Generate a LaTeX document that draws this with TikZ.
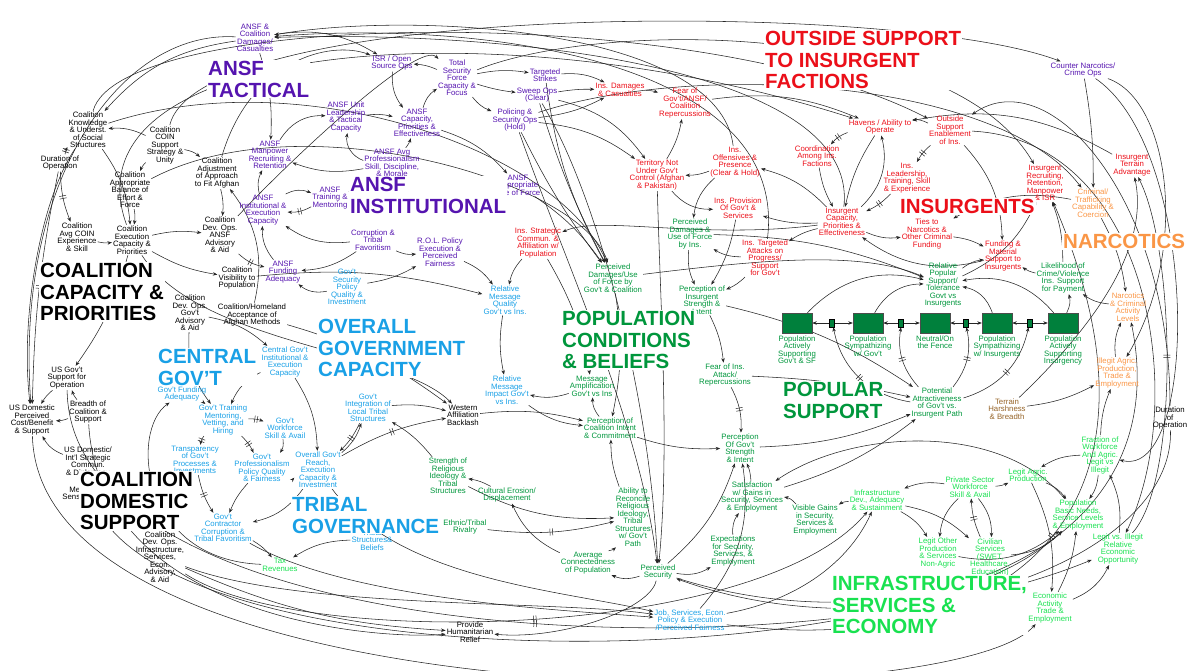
\documentclass[tikz,border=0pt]{standalone}
\usepackage{fontspec}
\setmainfont{Liberation Sans}
\usetikzlibrary{arrows.meta,positioning,decorations.markings,backgrounds}

\definecolor{ansfc}{RGB}{85,20,175}
\definecolor{insc}{RGB}{235,15,25}
\definecolor{govc}{RGB}{25,160,230}
\definecolor{popc}{RGB}{0,150,60}
\definecolor{infc}{RGB}{25,225,80}
\definecolor{narcc}{RGB}{250,150,70}
\definecolor{terrc}{RGB}{150,100,40}
\definecolor{stockc}{RGB}{0,128,60}

\newcommand{\varfont}{\fontsize{7.8}{7.5}\selectfont}
\newcommand{\sectorfont}{\fontsize{20.5}{21.7}\selectfont\bfseries}

\tikzset{
  var/.style={align=center, font=\varfont, inner sep=1pt},
  ansf/.style={var, text=ansfc},
  coal/.style={var, text=black},
  gov/.style={var, text=govc},
  ins/.style={var, text=insc},
  pop/.style={var, text=popc},
  infr/.style={var, text=infc},
  narc/.style={var, text=narcc},
  terr/.style={var, text=terrc},
  sector/.style={align=left, font=\sectorfont, inner sep=1pt, fill=white, anchor=north west},
  stockbox/.style={draw=black!70, fill=stockc, minimum width=30pt, minimum height=20pt, inner sep=0pt},
  stocklab/.style={var, text=popc},
  valve/.style={draw=black, fill=stockc, minimum width=5pt, minimum height=8pt, inner sep=0pt},
  flow/.style={draw=black!85, line width=0.55pt, -{Stealth[length=4.5pt,width=3.5pt]}},
  delay/.style={postaction={decorate}, decoration={markings,
    mark=at position 0.5 with {\draw[-, line width=0.5pt] (-1.3pt,-3.5pt) -- (-1.3pt,3.5pt) (1.3pt,-3.5pt) -- (1.3pt,3.5pt);}}}
}

\begin{document}
\begin{tikzpicture}[x=1pt, y=-1pt]
\useasboundingbox (0,0) rectangle (1195,670);

% ANSF
\node[ansf] (ansfdam) at (255,38) {ANSF \&\\Coalition\\Damages/\\Casualties};
\node[ansf] (isr) at (392,63) {ISR / Open\\Source Ops};
\node[ansf] (tsf) at (457,78) {Total\\Security\\Force\\Capacity \&\\Focus};
\node[ansf] (tstrike) at (545,75) {Targeted\\Strikes};
\node[ansf] (sweep) at (537,95) {Sweep Ops\\(Clear)};
\node[ansf] (police) at (515,120) {Policing \&\\Security Ops\\(Hold)};
\node[ansf] (unitlead) at (346,117) {ANSF Unit\\Leadership\\\& Tactical\\Capacity};
\node[ansf] (ansfcap) at (417,123) {ANSF\\Capacity,\\Priorities \&\\Effectiveness};
\node[ansf] (manpow) at (270,155) {ANSF\\Manpower\\Recruiting \&\\Retention};
\node[ansf] (prof) at (392,163) {ANSF Avg\\Professionalism\\Skill, Discipline,\\\& Morale};
\node[ansf] (train) at (330,198) {ANSF\\Training \&\\Mentoring};
\node[ansf] (instcap) at (263,210) {ANSF\\Institutional \&\\Execution\\Capacity};
\node[ansf] (corrupt) at (373,240) {Corruption \&\\Tribal\\Favoritism};
\node[ansf] (rol) at (440,252) {R.O.L. Policy\\Execution \&\\Perceived\\Fairness};
\node[ansf] (fund) at (283,272) {ANSF\\Funding\\Adequacy};
\node[ansf] (force) at (518,185) {ANSF\\Appropriate\\Use of Force};
\node[ansf] (cnops) at (1083,70) {Counter Narcotics/\\Crime Ops};

% coalition
\node[coal] (knowl) at (88,130) {Coalition\\Knowledge\\\& Underst.\\of Social\\Structures};
\node[coal] (coin) at (165,145) {Coalition\\COIN\\Support\\Strategy \&\\Unity};
\node[coal] (dur) at (60,163) {Duration of\\Operation};
\node[coal] (balance) at (130,190) {Coalition\\Appropriate\\Balance of\\Effort \&\\Force};
\node[coal] (adjust) at (217,173) {Coalition\\Adjustment\\of Approach\\to Fit Afghan};
\node[coal] (devansf) at (220,235) {Coalition\\Dev. Ops.\\ANSF\\Advisory\\\& Aid};
\node[coal] (avgcoin) at (77,237) {Coalition\\Avg COIN\\Experience\\\& Skill};
\node[coal] (exec) at (132,240) {Coalition\\Execution\\Capacity \&\\Priorities};
\node[coal] (visib) at (237,278) {Coalition\\Visibility to\\Population};
\node[coal] (devgov) at (190,313) {Coalition\\Dev. Ops.\\Gov't\\Advisory\\\& Aid};
\node[coal] (homeland) at (252,315) {Coalition/Homeland\\Acceptance of\\Afghan Methods};
\node[coal] (usgov) at (67,378) {US Gov't\\Support for\\Operation};
\node[coal] (usdom) at (32,420) {US Domestic\\Perceived\\Cost/Benefit\\\& Support};
\node[coal] (breadth) at (88,412) {Breadth of\\Coalition \&\\Support};
\node[coal] (commun) at (88,462) {US Domestic/\\Int'l Strategic\\Commun.\\\& Diplomacy};
\node[coal] (media) at (80,494) {Media\\Sensitivity};
\node[coal] (devinfra) at (160,557) {Coalition\\Dev. Ops.\\Infrastructure,\\Services,\\Econ.\\Advisory,\\\& Aid};
\node[coal] (western) at (463,415) {Western\\Affiliation\\Backlash};
\node[coal] (relief) at (470,632) {Provide\\Humanitarian\\Relief};
\node[coal] (dur2) at (1170,418) {Duration\\of\\Operation};

% government
\node[gov] (secpol) at (347,287) {Gov't\\Security\\Policy\\Quality \&\\Investment};
\node[gov] (centcap) at (285,362) {Central Gov't\\Institutional \&\\Execution\\Capacity};
\node[gov] (govfund) at (182,394) {Gov't Funding\\Adequacy};
\node[gov] (govtrain) at (223,420) {Gov't Training\\Mentoring,\\Vetting, and\\Hiring};
\node[gov] (workforce) at (285,428) {Gov't\\Workforce\\Skill \& Avail};
\node[gov] (transp) at (195,460) {Transparency\\of Gov't\\Processes \&\\Investments};
\node[gov] (govprof) at (262,468) {Gov't\\Professionalism\\Policy Quality\\\& Fairness};
\node[gov] (reach) at (318,470) {Overall Gov't\\Reach,\\Execution\\Capacity \&\\Investment};
\node[gov] (integ) at (368,408) {Gov't\\Integration of\\Local Tribal\\Structures};
\node[gov] (contract) at (223,528) {Gov't\\Contractor\\Corruption \&\\Tribal Favoritism};
\node[gov] (tribstr) at (372,540) {Tribal\\Structures\&\\Beliefs};
\node[gov] (msgq) at (505,300) {Relative\\Message\\Quality\\Gov't vs Ins.};
\node[gov] (msgi) at (507,390) {Relative\\Message\\Impact Gov't\\vs Ins.};
\node[gov] (jobs) at (690,620) {Job, Services, Econ.\\Policy \& Execution\\/Perceived Fairness};

% insurgents
\node[ins] (insdam) at (620,90) {Ins. Damages\\\& Casualties};
\node[ins] (fear) at (685,103) {Fear of\\Gov't/ANSF/\\Coalition\\Repercussions};
\node[ins] (territory) at (657,175) {Territory Not\\Under Gov't\\Control (Afghan\\\& Pakistan)};
\node[ins] (offens) at (735,162) {Ins.\\Offensives \&\\Presence\\(Clear \& Hold)};
\node[ins] (provision) at (738,208) {Ins. Provision\\Of Gov't \&\\Services};
\node[ins] (havens) at (880,127) {Havens / Ability to\\Operate};
\node[ins] (outside) at (950,130) {Outside\\Support\\Enablement\\of Ins.};
\node[ins] (coord) at (817,156) {Coordination\\Among Ins.\\Factions};
\node[ins] (leader) at (907,178) {Ins.\\Leadership,\\Training, Skill\\\& Experience};
\node[ins] (inscap) at (842,222) {Insurgent\\Capacity,\\Priorities \&\\Effectiveness};
\node[ins] (strat) at (538,243) {Ins. Strategic\\Commun. \&\\Affiliation w/\\Population};
\node[ins] (attacks) at (765,258) {Ins. Targeted\\Attacks on\\Progress/\\Support\\for Gov't};
\node[ins] (ties) at (927,234) {Ties to\\Narcotics \&\\Other Criminal\\Funding};
\node[ins] (material) at (1003,256) {Funding \&\\Material\\Support to\\Insurgents};
\node[ins] (recruit) at (1045,183) {Insurgent\\Recruiting,\\Retention,\\Manpower\\\& ISR};
\node[ins] (terrain) at (1132,165) {Insurgent\\Terrain\\Advantage};

% narcotics
\node[narc] (criminal) at (1093,203) {Criminal/\\Trafficking\\Capability \&\\Coercion};
\node[narc] (narco) at (1128,307) {Narcotics\\\& Criminal\\Activity\\Levels};
\node[narc] (illegit) at (1117,373) {Illegit Agric.\\Production,\\Trade \&\\Employment};
\node[terr] (harsh) at (1007,409) {Terrain\\Harshness\\\& Breadth};

% population
\node[pop] (pdins) at (690,234) {Perceived\\Damages \&\\Use of Force\\by Ins.};
\node[pop] (pdgov) at (613,278) {Perceived\\Damages/Use\\of Force by\\Gov't \& Coalition};
\node[pop] (pins) at (702,300) {Perception of\\Insurgent\\Strength \&\\Intent};
\node[pop] (amplif) at (592,386) {Message\\Amplification\\Gov't vs Ins};
\node[pop] (fearins) at (725,375) {Fear of Ins.\\Attack/\\Repercussions};
\node[pop] (pcoal) at (610,428) {Perception of\\Coalition Intent\\\& Commitment};
\node[pop] (pgov) at (740,448) {Perception\\Of Gov't\\Strength\\\& Intent};
\node[pop] (religion) at (448,476) {Strength of\\Religious\\Ideology \&\\Tribal\\Structures};
\node[pop] (erosion) at (507,495) {Cultural Erosion/\\Displacement};
\node[pop] (reconcile) at (633,517) {Ability to\\Reconcile\\Religious\\Ideology,\\Tribal\\Structures\\w/ Gov't\\Path};
\node[pop] (ethnic) at (465,527) {Ethnic/Tribal\\Rivalry};
\node[pop] (connect) at (588,563) {Average\\Connectedness\\of Population};
\node[pop] (security) at (658,572) {Perceived\\Security};
\node[pop] (satisf) at (752,497) {Satisfaction\\w/ Gains in\\Security, Services\\\& Employment};
\node[pop] (expect) at (733,551) {Expectations\\for Security,\\Services, \&\\Employment};
\node[pop] (visible) at (815,520) {Visible Gains\\in Security,\\Services \&\\Employment};
\node[pop] (relsup) at (943,285) {Relative\\Popular\\Support/\\Tolerance\\Govt vs\\Insurgents};
\node[pop] (crime) at (1063,278) {Likelihood of\\Crime/Violence\\Ins. Support\\for Payment};
\node[pop] (attract) at (937,403) {Potential\\Attractiveness\\of Gov't vs.\\Insurgent Path};

% infrastructure
\node[infr] (infra) at (877,500) {Infrastructure\\Dev., Adequacy\\\& Sustainment};
\node[infr] (private) at (970,487) {Private Sector\\Workforce\\Skill \& Avail};
\node[infr] (agric) at (1028,475) {Legit Agric.\\Production};
\node[infr] (fraction) at (1100,455) {Fraction of\\Workforce\\And Agric.\\Legit vs\\Illegit};
\node[infr] (basic) at (1078,515) {Population\\Basic Needs,\\Service Levels\\\& Employment};
\node[infr] (other) at (938,553) {Legit Other\\Production\\\& Services\\Non-Agric};
\node[infr] (civil) at (990,557) {Civilian\\Services\\(SWET,\\Healthcare,\\Education)};
\node[infr] (opport) at (1118,549) {Legit vs. Illegit\\Relative\\Economic\\Opportunity};
\node[infr] (econ) at (1050,608) {Economic\\Activity\\Trade \&\\Employment};
\node[infr] (tax) at (280,565) {Tax\\Revenues};

% popular support chain
\node[stockbox] (s1) at (797,323) {};
\node[stockbox] (s2) at (868,323) {};
\node[stockbox] (s3) at (935,323) {};
\node[stockbox] (s4) at (997,323) {};
\node[stockbox] (s5) at (1063,323) {};
\node[valve] (v1) at (832,323) {};
\node[valve] (v2) at (901,323) {};
\node[valve] (v3) at (966,323) {};
\node[valve] (v4) at (1030,323) {};
\node[stocklab, below=1pt of s1] (l1) {Population\\Actively\\Supporting\\Gov't \& SF};
\node[stocklab, below=1pt of s2] (l2) {Population\\Sympathizing\\w/ Gov't};
\node[stocklab, below=1pt of s3] (l3) {Neutral/On\\the Fence};
\node[stocklab, below=1pt of s4] (l4) {Population\\Sympathizing\\w/ Insurgents};
\node[stocklab, below=1pt of s5] (l5) {Population\\Actively\\Supporting\\Insurgency};

\begin{scope}[on background layer]
% ANSF tactical and institutional
\draw[flow] (tsf) to[bend right=10] (isr);
\draw[flow] (tsf) to[bend left=10] (tstrike);
\draw[flow] (tsf) to[bend right=5] (sweep);
\draw[flow] (tsf) to[bend right=15] (police);
\draw[flow] (tstrike) to[bend left=15] (insdam);
\draw[flow] (sweep) to[bend left=5] (insdam);
\draw[flow] (police) to[bend right=10] (insdam);
\draw[flow] (police) to[bend left=15] (territory);
\draw[flow] (sweep) to[bend left=20] (territory);
\draw[flow] (insdam) to[bend left=10] (fear);
\draw[flow] (territory) to[bend right=10] (fear);
\draw[flow] (offens) to[bend left=10] (territory);
\draw[flow] (territory) to[bend right=25] (provision);
\draw[flow] (ansfcap) to[bend left=20] (tsf);
\draw[flow] (unitlead) to[bend left=10] (ansfcap);
\draw[flow] (prof) to[bend right=10] (ansfcap);
\draw[flow] (prof) to[bend left=40] (unitlead);
\draw[flow] (prof) to[bend left=15] (manpow);
\draw[flow,delay] (train) to[bend right=10] (prof);
\draw[flow] (instcap) to[bend left=25] (train);
\draw[flow,delay] (train) to[bend left=15] (instcap);
\draw[flow] (instcap) to[bend left=20] (manpow);
\draw[flow] (manpow) to[bend left=30] (unitlead);
\draw[flow] (fund) to[bend left=20] (instcap);
\draw[flow] (corrupt) to[bend left=15] (fund);
\draw[flow] (corrupt) to[bend left=20] (instcap);
\draw[flow] (secpol) to[bend left=25] (fund);
\draw[flow,delay] (devansf) to[bend right=15] (fund);
\draw[flow] (corrupt) to[bend right=15] (rol);
\draw[flow] (ansfcap) to[bend left=15] (force);
\draw[flow] (force) to[bend left=10] (pdgov);
\draw[flow] (isr) to[bend right=20] (ansfcap);
\draw[flow] (ansfdam) to[bend left=10] (manpow);
\draw[flow] (ansfdam) to[bend left=20] (isr);
\draw[flow] (offens) .. controls (720,30) and (420,10) .. (ansfdam);
\draw[flow] (attacks) .. controls (790,60) and (480,20) .. (ansfdam);
\draw[flow] (inscap) .. controls (860,70) and (520,30) .. (ansfdam);
% coalition
\draw[flow] (ansfdam) .. controls (120,30) and (15,180) .. (usdom);
\draw[flow] (ansfdam) to[bend right=20] (knowl);
\draw[flow] (coin) to[bend right=15] (knowl);
\draw[flow] (coin) to[bend left=15] (adjust);
\draw[flow] (coin) to[bend right=10] (balance);
\draw[flow,delay] (dur) to[bend left=10] (knowl);
\draw[flow,delay] (dur) to[bend right=10] (avgcoin);
\draw[flow] (knowl) to[bend left=15] (exec);
\draw[flow] (balance) to[bend left=10] (exec);
\draw[flow] (adjust) to[bend left=10] (devansf);
\draw[flow] (avgcoin) to[bend right=10] (exec);
\draw[flow] (exec) to[bend left=10] (devansf);
\draw[flow] (exec) to[bend right=10] (visib);
\draw[flow] (homeland) to[bend right=25] (adjust);
\draw[flow] (visib) to[bend left=10] (msgq);
\draw[flow] (devgov) to[bend right=20] (govtrain);
\draw[flow] (devgov) to[bend left=15] (centcap);
\draw[flow] (usgov) to[bend right=10] (usdom);
\draw[flow] (breadth) to[bend left=10] (usgov);
\draw[flow] (commun) to[bend left=20] (usdom);
\draw[flow] (breadth) to[bend left=10] (usdom);
\draw[flow] (exec) to[bend left=10] (usgov);
\draw[flow] (knowl) .. controls (40,200) and (20,320) .. (usdom);
\draw[flow,delay] (dur) to[bend right=5] (usdom);
\draw[flow] (exec) .. controls (200,345) and (400,350) .. (western);
\draw[flow] (homeland) to[bend left=10] (western);
\draw[flow] (knowl) .. controls (300,60) and (560,150) .. (pdgov);
\draw[flow] (balance) .. controls (300,100) and (580,180) .. (pdgov);
\draw[flow] (devansf) .. controls (300,150) and (420,40) .. (tsf);
\draw[flow] (coin) .. controls (200,0) and (900,0) .. (cnops);
\draw[flow] (knowl) .. controls (120,10) and (700,0) .. (outside);
\draw[flow] (exec) .. controls (60,40) and (500,5) .. (havens);
\draw[flow] (adjust) .. controls (250,60) and (330,40) .. (isr);
% government
\draw[flow] (centcap) to[bend right=20] (govtrain);
\draw[flow] (centcap) to[bend left=15] (reach);
\draw[flow,delay] (govtrain) to[bend left=10] (workforce);
\draw[flow,delay] (govtrain) to[bend right=15] (transp);
\draw[flow,delay] (govtrain) to[bend left=10] (govprof);
\draw[flow] (workforce) to[bend left=20] (govprof);
\draw[flow] (govprof) to[bend right=20] (reach);
\draw[flow] (reach) to[bend right=15] (integ);
\draw[flow,delay] (integ) to[bend left=10] (reach);
\draw[flow,delay] (transp) to[bend right=10] (contract);
\draw[flow] (contract) to[bend left=10] (tax);
\draw[flow] (tribstr) to[bend right=15] (tax);
\draw[flow] (govfund) to[bend left=10] (govtrain);
\draw[flow] (tax) .. controls (140,560) and (130,430) .. (govfund);
\draw[flow] (integ) to[bend left=10] (western);
\draw[flow,delay] (reach) to[bend left=10] (western);
\draw[flow] (msgq) to[bend right=10] (msgi);
\draw[flow] (msgi) to[bend right=15] (pcoal);
\draw[flow] (amplif) to[bend left=15] (msgi);
\draw[flow] (strat) to[bend right=15] (msgq);
\draw[flow] (rol) to[bend left=15] (msgq);
\draw[flow] (secpol) to[bend right=10] (rol);
\draw[flow] (reach) to[bend left=20] (contract);
\draw[flow] (govprof) to[bend right=10] (contract);
\draw[flow] (religion) to[bend right=10] (integ);
\draw[flow] (western) to[bend left=10] (pcoal);
% insurgents
\draw[flow,delay] (havens) to[bend right=15] (coord);
\draw[flow] (havens) to[bend right=10] (inscap);
\draw[flow] (coord) to[bend right=10] (inscap);
\draw[flow,delay] (outside) to[bend right=10] (leader);
\draw[flow,delay] (leader) to[bend left=10] (inscap);
\draw[flow] (inscap) to[bend right=30] (havens);
\draw[flow] (inscap) to[bend left=10] (provision);
\draw[flow] (inscap) to[bend right=10] (attacks);
\draw[flow] (inscap) to[bend right=15] (offens);
\draw[flow] (inscap) to[bend right=15] (ties);
\draw[flow] (ties) to[bend left=10] (material);
\draw[flow] (material) to[bend left=25] (inscap);
\draw[flow] (inscap) .. controls (700,240) and (600,215) .. (strat);
\draw[flow] (attacks) to[bend left=15] (pdins);
\draw[flow] (offens) to[bend right=20] (pdins);
\draw[flow] (provision) to[bend left=10] (pins);
\draw[flow] (pdins) to[bend right=15] (pins);
\draw[flow] (attacks) to[bend left=10] (pins);
\draw[flow] (pins) to[bend left=10] (fearins);
\draw[flow] (outside) to[bend left=20] (material);
\draw[flow] (outside) to[bend right=15] (havens);
\draw[flow] (crime) to[bend right=10] (recruit);
\draw[flow] (relsup) to[bend right=20] (recruit);
\draw[flow] (terrain) to[bend right=20] (havens);
\draw[flow] (cnops) to[bend left=5] (criminal);
\draw[flow] (criminal) to[bend left=10] (narco);
\draw[flow] (illegit) to[bend left=15] (narco);
\draw[flow] (fraction) to[bend left=10] (illegit);
\draw[flow] (harsh) to[bend right=10] (illegit);
\draw[flow] (harsh) .. controls (1090,330) and (1150,250) .. (terrain);
\draw[flow] (narco) to[bend left=15] (crime);
\draw[flow] (crime) to[bend left=10] (material);
\draw[flow] (criminal) to[bend right=20] (ties);
\draw[flow] (fear) to[bend left=15] (havens);
% population
\draw[flow] (pdgov) .. controls (760,260) and (860,250) .. (relsup);
\draw[flow] (pdins) to[bend left=10] (relsup);
\draw[flow] (s1) to[bend left=30] (relsup);
\draw[flow] (s2) to[bend left=30] (relsup);
\draw[flow] (s4) to[bend right=30] (relsup);
\draw[flow] (s5) to[bend right=30] (relsup);
\draw[flow] (relsup) to[bend left=15] (material);
\draw[flow] (s5) to[bend right=20] (crime);
\draw[flow] (v1) -- (s1);
\draw[flow] (v1) -- (s2);
\draw[flow] (v2) -- (s2);
\draw[flow] (v2) -- (s3);
\draw[flow] (v3) -- (s3);
\draw[flow] (v3) -- (s4);
\draw[flow] (v4) -- (s4);
\draw[flow] (v4) -- (s5);
\draw[flow,delay] (attract) to[bend left=35] (v1);
\draw[flow,delay] (attract) to[bend left=25] (v2);
\draw[flow,delay] (attract) to[bend right=25] (v3);
\draw[flow,delay] (attract) to[bend right=30] (v4);
\draw[flow] (pgov) to[bend right=10] (attract);
\draw[flow] (pins) to[bend left=10] (attract);
\draw[flow] (satisf) to[bend right=10] (attract);
\draw[flow] (fearins) to[bend left=5] (attract);
\draw[flow] (pcoal) to[bend right=10] (pgov);
\draw[flow] (satisf) to[bend right=10] (pgov);
\draw[flow] (expect) to[bend left=20] (satisf);
\draw[flow] (visible) to[bend right=20] (satisf);
\draw[flow] (security) to[bend right=20] (expect);
\draw[flow] (security) to[bend left=20] (connect);
\draw[flow] (reconcile) to[bend left=10] (pcoal);
\draw[flow] (religion) to[bend right=15] (reconcile);
\draw[flow] (erosion) to[bend right=10] (religion);
\draw[flow,delay] (ethnic) to[bend right=10] (reconcile);
\draw[flow] (connect) to[bend left=20] (erosion);
\draw[flow] (connect) to[bend right=15] (reconcile);
\draw[flow] (jobs) to[bend right=25] (pgov);
\draw[flow] (security) to[bend right=15] (pgov);
\draw[flow] (sweep) .. controls (600,200) and (650,400) .. (security);
\draw[flow] (police) .. controls (560,250) and (640,420) .. (security);
\draw[flow] (territory) .. controls (660,300) and (670,450) .. (security);
\draw[flow] (tstrike) to[bend right=10] (pdgov);
\draw[flow] (sweep) to[bend right=5] (pdgov);
\draw[flow] (police) to[bend right=5] (pdgov);
\draw[flow,delay] (pdgov) to[bend left=10] (pcoal);
\draw[flow] (strat) to[bend left=10] (amplif);
\draw[flow,delay] (fearins) to[bend left=15] (pgov);
\draw[flow] (pcoal) to[bend left=20] (amplif);
% infrastructure
\draw[flow] (infra) to[bend right=15] (visible);
\draw[flow] (infra) to[bend left=15] (other);
\draw[flow] (infra) to[bend left=15] (civil);
\draw[flow] (private) to[bend right=15] (infra);
\draw[flow] (private) to[bend right=10] (agric);
\draw[flow] (private) to[bend right=20] (other);
\draw[flow,delay] (civil) to[bend left=10] (private);
\draw[flow] (private) to[bend left=20] (civil);
\draw[flow] (agric) to[bend left=15] (basic);
\draw[flow] (civil) to[bend right=20] (basic);
\draw[flow] (other) to[bend right=25] (basic);
\draw[flow] (fraction) to[bend left=15] (basic);
\draw[flow] (fraction) to[bend right=15] (agric);
\draw[flow] (agric) to[bend left=15] (econ);
\draw[flow] (econ) to[bend right=10] (basic);
\draw[flow] (econ) to[bend right=20] (opport);
\draw[flow] (opport) to[bend right=15] (fraction);
\draw[flow] (basic) .. controls (1000,420) and (850,430) .. (satisf);
\draw[flow] (jobs) .. controls (800,600) and (850,560) .. (infra);
\draw[flow,delay] (devinfra) .. controls (300,650) and (760,640) .. (infra);
% long arcs
\draw[flow] (usdom) .. controls (40,720) and (950,720) .. (econ);
\draw[flow] (commun) .. controls (100,680) and (900,690) .. (basic);
\draw[flow] (breadth) .. controls (100,620) and (380,640) .. (relief);
\draw[flow,delay] (usgov) .. controls (70,650) and (800,680) .. (opport);
\draw[flow] (devinfra) .. controls (300,610) and (560,600) .. (jobs);
\draw[flow] (contract) .. controls (350,600) and (560,610) .. (jobs);
\draw[flow] (reach) .. controls (400,580) and (560,590) .. (jobs);
\draw[flow] (devinfra) to[bend right=10] (relief);
\draw[flow] (security) .. controls (650,610) and (560,640) .. (relief);
\draw[flow,delay] (jobs) .. controls (1000,660) and (1190,520) .. (recruit);
\draw[flow] (security) .. controls (900,650) and (1180,560) .. (narco);
\draw[flow] (outside) .. controls (1150,140) and (1190,400) .. (opport);
\draw[flow] (cnops) .. controls (1170,100) and (1190,250) .. (illegit);
\draw[flow] (cnops) .. controls (1200,150) and (1200,480) .. (fraction);
\draw[flow,delay] (opport) .. controls (1180,480) and (1175,250) .. (terrain);
\draw[flow] (dur2) .. controls (1175,560) and (900,660) .. (security);
\draw[flow] (dur2) .. controls (1170,200) and (1050,60) .. (outside);
\draw[flow] (tsf) .. controls (600,20) and (950,20) .. (recruit);
\draw[flow] (police) .. controls (700,60) and (1000,80) .. (criminal);
\end{scope}

% sector labels
\node[sector, text=ansfc] (tactical) at (207,60) {ANSF\\TACTICAL};
\node[sector, text=ansfc] (institutional) at (349,176) {ANSF\\INSTITUTIONAL};
\node[sector, text=insc] (outsup) at (764,30) {OUTSIDE SUPPORT\\TO INSURGENT\\FACTIONS};
\node[sector, text=insc] (insurgents) at (899,198) {INSURGENTS};
\node[sector, text=narcc] (narcotics) at (1062,233) {NARCOTICS};
\node[sector] (coalcap) at (39,262) {COALITION\\CAPACITY \&\\PRIORITIES};
\node[sector, text=govc] (central) at (157,348) {CENTRAL\\GOV'T};
\node[sector, text=govc] (overall) at (317,318) {OVERALL\\GOVERNMENT\\CAPACITY};
\node[sector, text=popc] (popcond) at (561,310) {POPULATION\\CONDITIONS\\\& BELIEFS};
\node[sector, text=popc] (popsup) at (782,381) {POPULAR\\SUPPORT};
\node[sector] (coaldom) at (79,471) {COALITION\\DOMESTIC\\SUPPORT};
\node[sector, text=govc] (tribal) at (291,496) {TRIBAL\\GOVERNANCE};
\node[sector, text=infc] (infrastructure) at (831,575) {INFRASTRUCTURE,\\SERVICES \&\\ECONOMY};
\end{tikzpicture}
\end{document}
